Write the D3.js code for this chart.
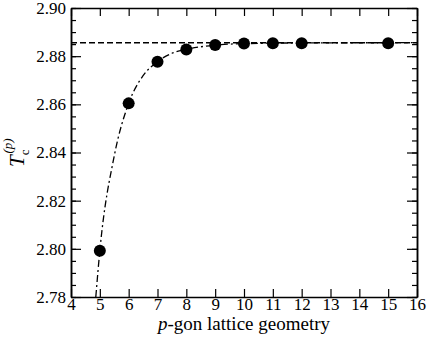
<!DOCTYPE html>
<html><head><meta charset="utf-8">
<script src="https://cdn.jsdelivr.net/npm/d3@7"></script>
<style>body{margin:0;background:#fff}svg{display:block}svg text{font-family:'Liberation Serif',serif;fill:#000}</style>
</head><body><svg id="c" width="428" height="338"></svg>
<script>
const pValues = [5, 6, 7, 8, 9, 10, 11, 12, 15];
const tcValues = [2.7992, 2.8604, 2.8777, 2.8828, 2.8846, 2.8853, 2.8854, 2.8854, 2.8854];
const fitP = [4.86, 5, 5.5, 6, 6.5, 7, 7.5, 8, 9, 10, 12, 16];
const fitT = [2.7800, 2.7992, 2.8386, 2.8604, 2.8719, 2.8777, 2.8812, 2.8828, 2.8846, 2.8852, 2.8855, 2.8856];
const limitT = 2.8856;
const xTicks = [4,5,6,7,8,9,10,11,12,13,14,15,16];
const yTicks = [2.78,2.80,2.82,2.84,2.86,2.88,2.90];
const yMinor = d3.range(2.78, 2.9001, 0.005);

const FONT="'Liberation Serif',serif";
const L=71,R=417,T=8,B=297;
const svg=d3.select("#c");
const x=d3.scaleLinear().domain([4,16]).range([L,R]);
const y=d3.scaleLinear().domain([2.78,2.90]).range([B,T]);

svg.append("line").attr("x1",L).attr("x2",R).attr("y1",y(limitT)).attr("y2",y(limitT))
  .attr("stroke","#000").attr("stroke-width",1.5).attr("stroke-dasharray","6,3");
const fit=fitP.map((p,i)=>[p,fitT[i]]);
svg.append("path").datum(fit).attr("fill","none").attr("stroke","#000").attr("stroke-width",1.3)
  .attr("stroke-dasharray","7,3,2,3")
  .attr("d",d3.line().x(d=>x(d[0])).y(d=>y(d[1])).curve(d3.curveMonotoneX));
svg.selectAll("circle.pt").data(pValues).join("circle").attr("class","pt")
  .attr("cx",d=>x(d)).attr("cy",(d,i)=>y(tcValues[i])).attr("r",6).attr("fill","#000");

const fmt=d3.format(".2f");
const gB=svg.append("g").attr("transform",`translate(0,${B})`).call(d3.axisBottom(x).tickValues(xTicks).tickSizeInner(-8).tickSizeOuter(0).tickPadding(1));
const gT=svg.append("g").attr("transform",`translate(0,${T})`).call(d3.axisTop(x).tickValues(xTicks).tickSizeInner(-8).tickSizeOuter(0).tickFormat(""));
const gL=svg.append("g").attr("transform",`translate(${L},0)`).call(d3.axisLeft(y).tickValues(yTicks).tickSizeInner(-10).tickSizeOuter(0).tickPadding(4).tickFormat(fmt));
const gR=svg.append("g").attr("transform",`translate(${R},0)`).call(d3.axisRight(y).tickValues(yTicks).tickSizeInner(-10).tickSizeOuter(0).tickFormat(""));
const gLm=svg.append("g").attr("transform",`translate(${L},0)`).call(d3.axisLeft(y).tickValues(yMinor).tickSizeInner(-5).tickSizeOuter(0).tickFormat(""));
const gRm=svg.append("g").attr("transform",`translate(${R},0)`).call(d3.axisRight(y).tickValues(yMinor).tickSizeInner(-5).tickSizeOuter(0).tickFormat(""));
[gB,gT,gL,gR,gLm,gRm].forEach(g=>{g.attr("font-family",FONT).attr("font-size",17);
  g.select(".domain").attr("stroke","#000").attr("stroke-width",1.5);
  g.selectAll(".tick line").attr("stroke","#000").attr("stroke-width",1.2);
  g.selectAll("text").attr("font-size",17).style("font-family",FONT);});
gL.selectAll(".tick text").attr("dx",-1);

const xt=svg.append("text").attr("x",(L+R)/2).attr("y",330).attr("text-anchor","middle").attr("font-size",19).style("font-family",FONT);
xt.append("tspan").attr("font-style","italic").text("p");
xt.append("tspan").text("-gon lattice geometry");
const yt=svg.append("text").attr("transform","translate(24,167) rotate(-90)").attr("text-anchor","start").attr("font-size",21).style("font-family",FONT);
yt.append("tspan").attr("font-style","italic").text("T");
yt.append("tspan").attr("font-size",13).attr("dy",5).text("c");
yt.append("tspan").attr("font-size",13).attr("dx",-4).attr("dy",-17).attr("font-style","italic").text("(p)");
</script></body></html>
